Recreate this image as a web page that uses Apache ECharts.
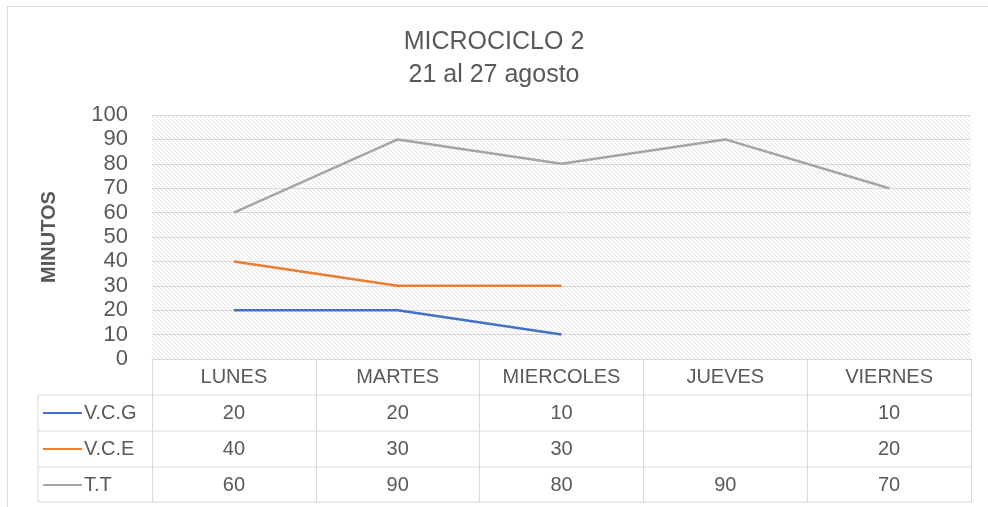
<!DOCTYPE html>
<html>
<head>
<meta charset="utf-8">
<script src="https://cdn.jsdelivr.net/npm/echarts@6/dist/echarts.min.js"></script>
<style>
  html, body { margin: 0; padding: 0; background: #fff; }
  #chart { width: 988px; height: 507px; }
</style>
</head>
<body>
<div id="chart"></div>
<script>
// datos del microciclo
var dias = ['LUNES', 'MARTES', 'MIERCOLES', 'JUEVES', 'VIERNES'];
var nombres = ['V.C.G', 'V.C.E', 'T.T'];
var vcg = [20, 20, 10, null, 10];
var vce = [40, 30, 30, null, 20];
var tt = [60, 90, 80, 90, 70];
var colores = ['#4472C4', '#ED7D31', '#A5A5A5'];

var FONT = "'Liberation Sans', sans-serif";
var GRIS = '#595959';
var LINEA = '#d9d9d9';

// layout (px)
var gL = 152, gR = 17, gT = 115, gB = 148;
var axisY = 507 - gB;
var fila = 36;

function trama() {   // fondo rayado del area de trazado
  var c = document.createElement('canvas');
  c.width = 4; c.height = 4;
  var ctx = c.getContext('2d');
  ctx.strokeStyle = '#e2e2e2';
  ctx.lineWidth = 1;
  ctx.beginPath();
  ctx.moveTo(-1, -1); ctx.lineTo(5, 5);
  ctx.moveTo(3, -1); ctx.lineTo(9, 5);
  ctx.moveTo(-5, -1); ctx.lineTo(1, 5);
  ctx.stroke();
  return c;
}

var series = [vcg, vce, tt];

// ejes de la tabla (una fila por serie)
var xAxes = [{
  type: 'category',
  data: dias,
  position: 'bottom',
  boundaryGap: true,
  axisLine: { show: true, lineStyle: { color: LINEA } },
  axisTick: { show: true, length: fila * 4 - 1, lineStyle: { color: LINEA } },
  axisLabel: { color: GRIS, fontSize: 20, fontFamily: FONT, margin: 8 }
}];
series.forEach(function (s, i) {
  xAxes.push({
    type: 'category',
    data: s.map(function (v) { return v == null ? '' : String(v); }),
    position: 'bottom',
    offset: fila * (i + 1),
    axisLine: { show: false },
    axisTick: { show: false },
    axisLabel: { color: GRIS, fontSize: 20, fontFamily: FONT, margin: 8, interval: 0 }
  });
});

// lineas de la tabla + leyenda en la primera columna
var graficos = [];
for (var k = 1; k <= 4; k++) {
  var y = axisY + fila * k - (k === 4 ? 1 : 0);
  graficos.push({
    type: 'line',
    shape: { x1: 38, y1: y, x2: 988 - gR, y2: y },
    style: { stroke: LINEA, lineWidth: 1 }
  });
}
graficos.push({
  type: 'line',
  shape: { x1: 38, y1: axisY + fila, x2: 38, y2: axisY + fila * 4 - 1 },
  style: { stroke: LINEA, lineWidth: 1 }
});
nombres.forEach(function (n, i) {
  var cy = axisY + fila * (i + 1.5);
  graficos.push({
    type: 'line',
    shape: { x1: 43, y1: cy, x2: 82, y2: cy },
    style: { stroke: colores[i], lineWidth: 2 }
  });
  graficos.push({
    type: 'text',
    x: 84, y: cy,
    style: { text: n, fill: GRIS, font: '20px ' + FONT, verticalAlign: 'middle', align: 'left' }
  });
});
graficos.push({
  type: 'rect',
  shape: { x: 7.5, y: 6.5, width: 1000, height: 600 },
  style: { fill: null, stroke: '#d9d9d9', lineWidth: 1 }
});

var chart = echarts.init(document.getElementById('chart'));
chart.setOption({
  backgroundColor: '#fff',
  animation: false,
  title: {
    text: 'MICROCICLO 2\n21 al 27 agosto',
    left: 'center',
    top: 21,
    textStyle: { color: GRIS, fontSize: 25, fontWeight: 'normal', fontFamily: FONT, lineHeight: 33 }
  },
  grid: {
    left: gL, right: gR, top: gT, bottom: gB,
    show: true,
    borderWidth: 0,
    backgroundColor: { image: trama(), repeat: 'repeat' }
  },
  xAxis: xAxes,
  yAxis: {
    type: 'value',
    min: 0, max: 100, interval: 10,
    name: 'MINUTOS',
    nameLocation: 'middle',
    nameGap: 93,
    nameTextStyle: { color: GRIS, fontSize: 20, fontWeight: 'bold', fontFamily: FONT },
    axisLine: { show: false },
    axisTick: { show: false },
    axisLabel: { color: GRIS, fontSize: 22, fontFamily: FONT, margin: 24 },
    splitLine: { lineStyle: { color: LINEA, width: 1 } }
  },
  series: series.map(function (s, i) {
    return {
      name: nombres[i],
      type: 'line',
      data: s,
      showSymbol: false,
      symbol: 'none',
      connectNulls: false,
      lineStyle: { color: colores[i], width: 2.5 },
      itemStyle: { color: colores[i] },
      z: 3
    };
  }),
  graphic: graficos
});
</script>
</body>
</html>
